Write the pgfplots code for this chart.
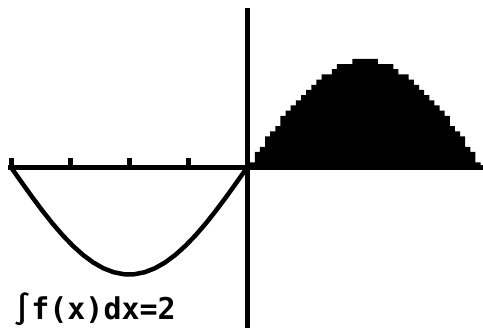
\documentclass[border=0pt]{standalone}
\usepackage{fontspec}
\usepackage{pgfplots}
\pgfplotsset{compat=1.18}
\newfontfamily\calcfont{DejaVu Sans Mono Bold}

% sin over [0,pi], one value per screen column (rows of 1/20.7)
\pgfplotstableread{
x        y
0.0000   0.0000
0.0683   0.0483
0.1366   0.1449
0.2049   0.1932
0.2732   0.2899
0.3415   0.3382
0.4098   0.3865
0.4781   0.4831
0.5464   0.5314
0.6147   0.5797
0.6830   0.6280
0.7512   0.6763
0.8195   0.7246
0.8878   0.7729
0.9561   0.8213
1.0244   0.8696
1.0927   0.8696
1.1610   0.9179
1.2293   0.9662
1.2976   0.9662
1.3659   0.9662
1.4342   1.0145
1.5025   1.0145
1.5708   1.0145
1.6391   1.0145
1.7074   1.0145
1.7757   0.9662
1.8440   0.9662
1.9123   0.9662
1.9806   0.9179
2.0489   0.8696
2.1172   0.8696
2.1855   0.8213
2.2538   0.7729
2.3221   0.7246
2.3904   0.6763
2.4586   0.6280
2.5269   0.5797
2.5952   0.5314
2.6635   0.4831
2.7318   0.3865
2.8001   0.3382
2.8684   0.2899
2.9367   0.1932
3.0050   0.1449
3.0733   0.0483
3.1416   0.0000
}\posdata

% sin over [-pi,0]
\pgfplotstableread{
x        y
-3.1416   0.0000
-3.0050  -0.1362
-2.8684  -0.2698
-2.7318  -0.3984
-2.5952  -0.5196
-2.4586  -0.6311
-2.3221  -0.7308
-2.1855  -0.8170
-2.0489  -0.8879
-1.9123  -0.9423
-1.7757  -0.9791
-1.6391  -0.9977
-1.5708  -1.0000
-1.5025  -0.9977
-1.3659  -0.9791
-1.2293  -0.9423
-1.0927  -0.8879
-0.9561  -0.8170
-0.8195  -0.7308
-0.6830  -0.6311
-0.5464  -0.5196
-0.4098  -0.3984
-0.2732  -0.2698
-0.1366  -0.1362
0.0000    0.0000
}\negdata

\begin{document}
\begin{tikzpicture}
\begin{axis}[
  scale only axis,
  width=483pt, height=328pt,
  xmin=-3.29, xmax=3.14,
  ymin=-1.50, ymax=1.565,
  axis lines=middle,
  axis line style={-, black, line width=5pt},
  x axis line style={shorten <=8pt},
  y axis line style={shorten >=8pt},
  xtick={-3.1416,-2.3562,-1.5708,-0.7854},
  xticklabels={},
  ytick=\empty,
  xtick align=inside,
  major tick length=9pt,
  every tick/.style={black, line width=5pt},
  xtick style={black, line width=5pt},
  clip=false,
]
  \addplot[black, fill=black, draw=none, const plot mark mid]
    table[x=x, y=y] {\posdata} \closedcycle;
  \addplot[black, line width=4.5pt, line join=miter]
    table[x=x, y=y] {\negdata};
  \node[anchor=base west, inner sep=0pt, font=\calcfont\fontsize{30}{30}\selectfont]
    at (rel axis cs:0.027,0.026) {∫f(x)dx=2};
\end{axis}
\pgfresetboundingbox
\path (current axis.south west) rectangle (current axis.north east);
\end{tikzpicture}
\end{document}
